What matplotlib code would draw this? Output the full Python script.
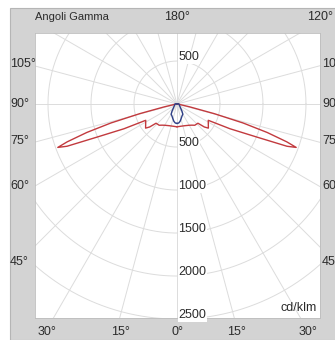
import numpy as np
import matplotlib
matplotlib.use('Agg')
import matplotlib.pyplot as plt
from matplotlib.patches import Rectangle

# gamma angles (deg) and intensities (cd/klm)
red_gamma = [0, 10, 20, 30, 35, 40, 47.5, 50, 52.5, 62.5, 65, 67.5, 69, 70, 71, 72.5, 74, 75.5, 77.5, 80, 85, 90, 180]
red_cd = [265, 262, 268, 285, 300, 322, 330, 415, 460, 410, 680, 1000, 1370, 1475, 1350, 1100, 800, 450, 150, 40, 10, 0, 0]

blue_gamma = [0, 5, 10, 15, 20, 25, 30, 35, 40, 45, 50, 60, 70, 80, 90, 100, 110, 180]
blue_cd = [225, 222, 205, 180, 160, 145, 137, 100, 70, 55, 45, 35, 28, 25, 23, 18, 8, 0]

rings = [500, 1000, 1500, 2000, 2500]
side_labels = ['105°', '90°', '75°', '60°', '45°']
bottom_labels = ['30°', '15°', '0°', '15°', '30°']

RED = '#c23a3e'
BLUE = '#2e3f86'
GRID = '#dcdcdc'
TXT = '#2b2b2b'
plt.rcParams['font.family'] = ['Liberation Sans', 'DejaVu Sans']


def to_xy(gamma, cd, side):
    g = np.radians(np.asarray(gamma, dtype=float))
    r = np.asarray(cd, dtype=float)
    return side * r * np.sin(g), -r * np.cos(g)


W, H = 335, 340
fig = plt.figure(figsize=(W / 100, H / 100), dpi=100)
fig.patch.set_facecolor('white')
fig.patches.append(Rectangle((10 / W, 0), 1, 1 - 8 / H, transform=fig.transFigure,
                             facecolor='#d3d3d3', edgecolor='#b5b5b5', lw=0.8, zorder=-5))

ax = fig.add_axes([35 / W, 22 / H, 285 / W, 285 / H])
ax.set_zorder(2)
ax.set_xlim(-1651, 1663)
ax.set_ylim(-2488, 826)
ax.set_aspect('equal')
ax.set_facecolor('white')
for s in ax.spines.values():
    s.set_color('#bdbdbd')
    s.set_linewidth(0.6)
ax.set_xticks([])
ax.set_yticks([])

# grid: circles and radial lines
t = np.linspace(0, 2 * np.pi, 400)
for r in rings:
    ax.plot(r * np.cos(t), r * np.sin(t), color=GRID, lw=0.7, zorder=1)
for a in np.arange(0, 360, 15):
    ar = np.radians(a)
    ax.plot([0, 4000 * np.sin(ar)], [0, -4000 * np.cos(ar)], color=GRID, lw=0.7, zorder=1)

# curves, both halves
for side in (-1, 1):
    x, y = to_xy(red_gamma, red_cd, side)
    ax.plot(x, y, color=RED, lw=1.0, zorder=3)
    x, y = to_xy(blue_gamma, blue_cd, side)
    ax.plot(x, y, color=BLUE, lw=1.0, zorder=4)

# ring labels, sitting a little above each circle
fs = 9
lift = 45
ax.text(15, 500 + lift, '500', fontsize=fs, color=TXT, ha='left', va='center', zorder=5,
        bbox=dict(facecolor='white', edgecolor='none', pad=0.3))
for r in rings:
    ax.text(15, -r + lift, str(r), fontsize=fs, color=TXT, ha='left', va='center', zorder=5,
            bbox=dict(facecolor='white', edgecolor='none', pad=0.3))
ax.text(1630, -2440, 'cd/klm', fontsize=fs, color=TXT, ha='right', va='bottom', zorder=5)

# frame labels (figure pixel coords)
def ftext(px, py, s, ha='center', size=fs):
    fig.text(px / W, 1 - py / H, s, fontsize=size, color=TXT, ha=ha, va='center')

ftext(35, 17, 'Angoli Gamma', ha='left', size=8)
ftext(177, 17, '180°')
ftext(320, 17, '120°')
for lab, py in zip(side_labels, [64, 104, 141, 186, 262]):
    ftext(10, py, lab, ha='left')
    ftext(322, py, lab, ha='left')
for lab, px in zip(bottom_labels, [47, 120, 177, 237, 308]):
    ftext(px, 332, lab)

fig.savefig('out.png', dpi=100)
